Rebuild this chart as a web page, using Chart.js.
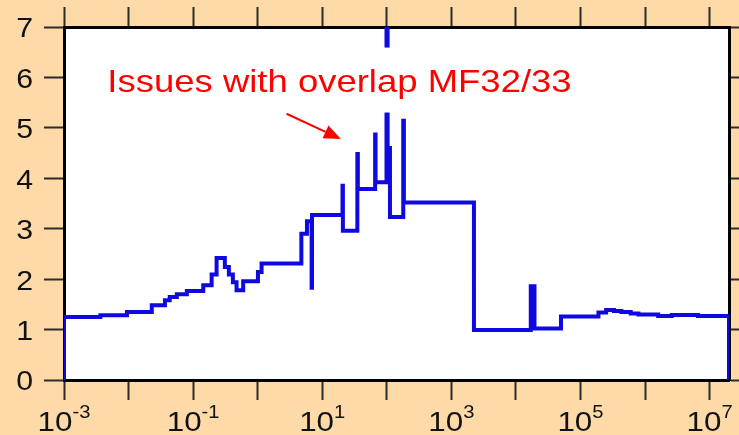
<!DOCTYPE html>
<html>
<head>
<meta charset="utf-8">
<script src="https://cdn.jsdelivr.net/npm/chart.js@4.4.1/dist/chart.umd.min.js"></script>
<style>
  html, body { margin: 0; padding: 0; background: #fddaa8; }
  canvas { display: block; }
</style>
</head>
<body>
<canvas id="uncChart" width="739" height="435"></canvas>
<script>
// step function: each value holds from its energy up to the next one (eV)
const energy = [1e-3, 1e-3, 3.66e-3, 9.45e-3, 0.0229, 0.0366, 0.0434, 0.0559, 0.080, 0.1436,
    0.1936, 0.231, 0.310, 0.358, 0.413, 0.471, 0.596, 1.01, 1.15, 4.75,
    5.8, 6.85, 6.95, 20.6, 20.9, 35, 35.6, 66, 67, 99,
    103, 112, 180, 184, 2240, 1.7e4, 1.94e4, 5e4, 1.9e5, 2.5e5,
    3.3e5, 4.3e5, 6e5, 7.9e5, 1.6e6, 2.6e6, 4.2e6, 6.6e6, 2e7];
const values = [0, 1.25, 1.285, 1.35, 1.48, 1.58, 1.646, 1.70, 1.765, 1.88,
    2.09, 2.42, 2.24, 2.09, 1.94, 1.78, 1.96, 2.14, 2.31, 2.90,
    3.15, 1.83, 3.27, 3.85, 2.96, 4.48, 3.79, 4.87, 3.92, 8,
    4.6, 3.23, 5.14, 3.52, 0.99, 1.86, 1.02, 1.26, 1.34, 1.39,
    1.37, 1.35, 1.32, 1.30, 1.27, 1.29, 1.29, 1.27, 0];

const decades = [1e-3, 1e-2, 1e-1, 1e0, 1e1, 1e2, 1e3, 1e4, 1e5, 1e6, 1e7];
const xLabelExps = [-3, -1, 1, 3, 5, 7];
const yTicks = [0, 1, 2, 3, 4, 5, 6, 7];

const noteText = 'Issues with overlap MF32/33';

const FONT = '"Liberation Sans", Arial, Helvetica, sans-serif';
const STRETCH = 1.12;

function wideText(ctx, str, x, y, sx) {
    ctx.save();
    ctx.translate(x, y);
    ctx.scale(sx, 1);
    ctx.fillText(str, 0, 0);
    ctx.restore();
}

// peach page with a white plot box
const paperPlugin = {
    id: 'paper',
    beforeDraw(chart) {
        const { ctx, width, height, chartArea: a } = chart;
        ctx.save();
        ctx.fillStyle = '#fddaa8';
        ctx.fillRect(0, 0, width, height);
        ctx.fillStyle = '#ffffff';
        ctx.fillRect(a.left, a.top, a.right - a.left, a.bottom - a.top);
        ctx.restore();
    }
};

// tick labels, with superscript powers of ten on the energy axis
const labelPlugin = {
    id: 'labels',
    afterDraw(chart) {
        const ctx = chart.ctx;
        const xs = chart.scales.x, ys = chart.scales.y;
        ctx.save();
        ctx.fillStyle = '#111';

        ctx.font = '27px ' + FONT;
        ctx.textAlign = 'right';
        ctx.textBaseline = 'middle';
        yTicks.forEach(v => {
            wideText(ctx, String(v), 33, ys.getPixelForValue(v) + 3, STRETCH);
        });

        ctx.textAlign = 'left';
        ctx.textBaseline = 'alphabetic';
        xLabelExps.forEach(e => {
            const px = xs.getPixelForValue(Math.pow(10, e));
            const sup = String(e);
            ctx.font = '28px ' + FONT;
            const w1 = ctx.measureText('10').width * STRETCH;
            ctx.font = '18px ' + FONT;
            const w2 = ctx.measureText(sup).width * STRETCH;
            const x0 = px - (w1 + w2) / 2;
            ctx.font = '28px ' + FONT;
            wideText(ctx, '10', x0, 431, STRETCH);
            ctx.font = '18px ' + FONT;
            wideText(ctx, sup, x0 + w1, 418, STRETCH);
        });
        ctx.restore();
    }
};

// red note on a white box, with an arrow pointing at the resonance region
const notePlugin = {
    id: 'note',
    afterDatasetsDraw(chart) {
        const ctx = chart.ctx;
        const xs = chart.scales.x, ys = chart.scales.y;
        const cx = xs.getPixelForValue(18.5);
        const base = ys.getPixelForValue(5.72);
        ctx.save();
        ctx.font = '32px ' + FONT;
        const w = ctx.measureText(noteText).width * 1.14;
        ctx.fillStyle = '#ffffff';
        ctx.fillRect(cx - w / 2 - 10, base - 44, w + 20, 65);
        ctx.fillStyle = '#ff0000';
        ctx.textAlign = 'left';
        wideText(ctx, noteText, cx - w / 2, base, 1.14);

        const x1 = xs.getPixelForValue(2.8), y1 = ys.getPixelForValue(5.28);
        const x2 = xs.getPixelForValue(19.5), y2 = ys.getPixelForValue(4.78);
        const ang = Math.atan2(y2 - y1, x2 - x1);
        const len = 17, half = 7;
        const bx = x2 - len * Math.cos(ang), by = y2 - len * Math.sin(ang);
        ctx.strokeStyle = '#ff0000';
        ctx.lineWidth = 2;
        ctx.beginPath();
        ctx.moveTo(x1, y1);
        ctx.lineTo(bx, by);
        ctx.stroke();
        ctx.beginPath();
        ctx.moveTo(x2, y2);
        ctx.lineTo(bx + half * Math.sin(ang), by - half * Math.cos(ang));
        ctx.lineTo(bx - half * Math.sin(ang), by + half * Math.cos(ang));
        ctx.closePath();
        ctx.fill();
        ctx.restore();
    }
};

const decadeTicks = scale => { scale.ticks = decades.map(v => ({ value: v })); };
const frame = { display: true, color: '#000', width: 3 };
const marks = (len) => ({ drawOnChartArea: false, drawTicks: true, tickLength: len, tickWidth: 2, tickColor: '#2b2b2b' });

new Chart(document.getElementById('uncChart'), {
    type: 'line',
    data: {
        datasets: [{
            data: energy.map((e, i) => ({ x: e, y: values[i] })),
            borderColor: '#1008e0',
            borderWidth: 4,
            pointRadius: 0,
            // hold each value until the next energy, then step
            stepped: 'before',
            borderJoinStyle: 'miter',
            clip: 0,
            fill: false
        }]
    },
    options: {
        responsive: false,
        animation: false,
        layout: { padding: 0 },
        plugins: { legend: { display: false }, tooltip: { enabled: false } },
        scales: {
            x: {
                type: 'logarithmic', position: 'bottom', min: 1e-3, max: 2e7,
                afterBuildTicks: decadeTicks,
                afterFit: s => { s.height = 55; },
                ticks: { display: false },
                grid: marks(20), border: frame
            },
            x2: {
                type: 'logarithmic', position: 'top', min: 1e-3, max: 2e7,
                afterBuildTicks: decadeTicks,
                afterFit: s => { s.height = 27; },
                ticks: { display: false },
                grid: marks(20), border: frame
            },
            y: {
                type: 'linear', position: 'left', min: 0, max: 7,
                ticks: { display: false, stepSize: 1 },
                afterFit: s => { s.width = 64; },
                grid: marks(20), border: frame
            },
            y2: {
                type: 'linear', position: 'right', min: 0, max: 7,
                ticks: { display: false, stepSize: 1 },
                afterFit: s => { s.width = 10; },
                grid: marks(10), border: frame
            }
        }
    },
    plugins: [paperPlugin, notePlugin, labelPlugin]
});
</script>
</body>
</html>
